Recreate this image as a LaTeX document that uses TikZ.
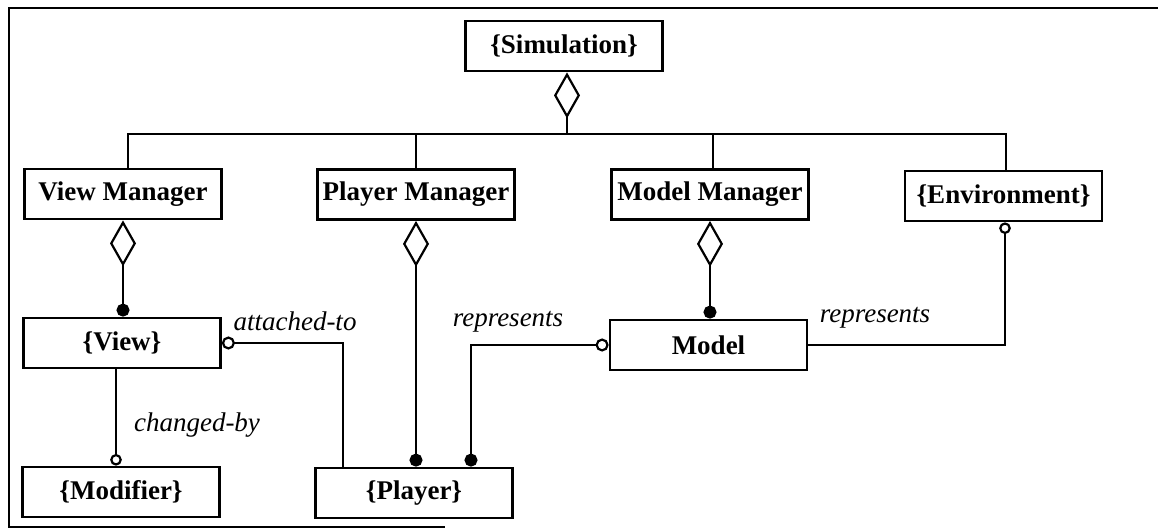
\documentclass[tikz,border=0pt]{standalone}
\usepackage{fontspec}
\setmainfont{Liberation Serif}
\usetikzlibrary{arrows.meta,calc}
\begin{document}
\begin{tikzpicture}[x=0.5pt,y=-0.5pt,
  cls/.style={draw,line width=1.4pt,minimum width=98.5pt,minimum height=25pt,inner sep=0pt,font=\fontsize{13.5}{15}\selectfont\bfseries},
  lbl/.style={font=\fontsize{13.5}{15}\selectfont\itshape,inner sep=0pt},
  conn/.style={line width=1.1pt},
  agg/.tip={Diamond[open,length=23pt,width=13pt,line width=1.1pt]},
  fdot/.tip={Circle[length=6.5pt]},
  odot/.tip={Circle[open,length=6.5pt,line width=1.1pt]},
  sdot/.tip={Circle[open,length=5.8pt,line width=1.1pt]}
]
\useasboundingbox (0,0) rectangle (1158,529);
% frame
\draw[line width=1.1pt] (1160,8) -- (9,8) -- (9,527) -- (445,527);

% classes
\node[cls] (sim)  at (564,46)    {\{Simulation\}};
\node[cls] (vm)   at (123,194)   {View Manager};
\node[cls] (pm)   at (416,194.5) {Player Manager};
\node[cls] (mm)   at (710,194.5) {Model Manager};
\node[cls] (env)  at (1003.5,196){\{Environment\}};
\node[cls] (view) at (122,343)   {\{View\}};
\node[cls] (model)at (708.5,345) {Model};
\node[cls] (mod)  at (121,492)   {\{Modifier\}};
\node[cls] (pl)   at (414,493)   {\{Player\}};

\coordinate (bus) at (567,134);
\coordinate (busL) at (128,134);
\coordinate (busR) at (1006,134);
\coordinate (busM) at (713,134);

% aggregation: Simulation -> managers
\draw[conn,agg-] (sim.south -| bus) -- (bus);
\draw[conn] (vm.north -| busL) -- (busL) -- (busR) -- (env.north -| busR);
\draw[conn] (pm.north) -- (pm.north |- bus);
\draw[conn] (mm.north -| busM) -- (busM);

% managers -> parts
\draw[conn,agg-fdot] (vm.south) -- (vm.south |- view.north);
\draw[conn,agg-fdot] (pm.south) -- (pm.south |- pl.north);
\draw[conn,agg-fdot] (mm.south) -- (mm.south |- model.north);

% attached-to
\coordinate (att) at ($(pl.north)+(-71,0)$);
\draw[conn,odot-] (view.east) -| (att);
\node[lbl] (attl) at (295,321) {attached-to};

% changed-by
\coordinate (chg) at ($(view.south)+(-6,0)$);
\draw[conn,-sdot] (chg) -- (chg |- mod.north);
\node[lbl] (chgl) at (197,425) {changed-by};

% represents (Model - Player)
\coordinate (rep) at ($(pl.north)+(57,0)$);
\draw[conn,fdot-odot] (rep) |- (model.west);
\node[lbl] (repl) at (508,322) {represents};

% represents (Model - Environment)
\coordinate (envb) at (1005,0);
\draw[conn,sdot-] (env.south -| envb) |- (model.east);
\node[lbl] (rep2l) at (875,318) {represents};
\end{tikzpicture}
\end{document}
